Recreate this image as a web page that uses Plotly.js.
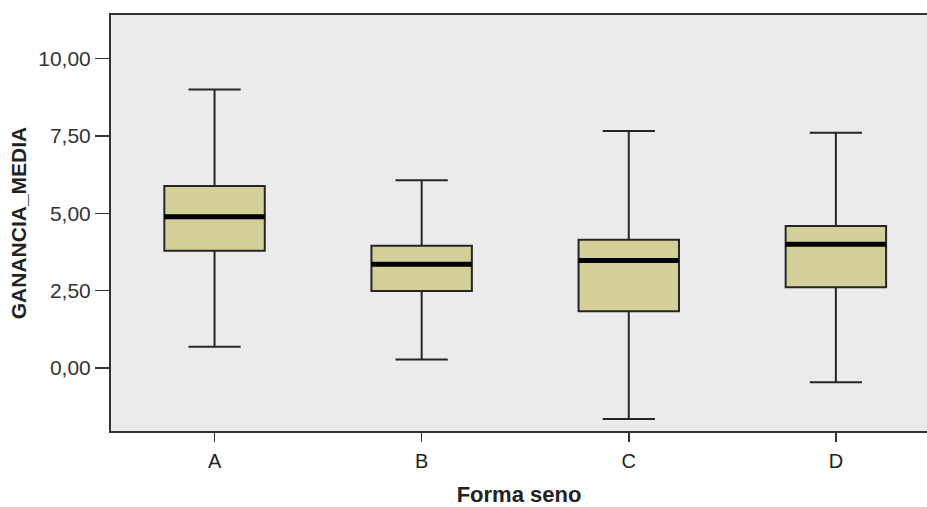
<!DOCTYPE html>
<html>
<head>
<meta charset="utf-8">
<script src="https://cdn.plot.ly/plotly-3.0.1.min.js"></script>
<style>
html,body{margin:0;padding:0;background:#fff;}
#chart{width:927px;height:507px;}
</style>
</head>
<body>
<div id="chart"></div>
<script>
const categories = ["A", "B", "C", "D"];
const upperWhisker = [9.00, 6.07, 7.66, 7.60];
const q3Values = [5.88, 3.95, 4.14, 4.59];
const medianValues = [4.89, 3.35, 3.47, 4.00];
const q1Values = [3.79, 2.49, 1.83, 2.61];
const lowerWhisker = [0.68, 0.27, -1.65, -0.46];
const yTickValues = [0, 2.5, 5, 7.5, 10];
const xAxisTitle = "Forma seno";
const yAxisTitle = "GANANCIA_MEDIA";

const boxTrace = {
  type: "box",
  x: categories,
  q1: q1Values,
  median: medianValues,
  q3: q3Values,
  lowerfence: lowerWhisker,
  upperfence: upperWhisker,
  width: 0.485,
  whiskerwidth: 0.52,
  fillcolor: "#D4CF99",
  line: {color: "#262626", width: 2},
  boxpoints: false,
  hoverinfo: "skip",
  showlegend: false
};

// thick median bar drawn as a flat box on the same scale
const medianTrace = {
  type: "box",
  x: categories,
  q1: medianValues,
  median: medianValues,
  q3: medianValues,
  lowerfence: medianValues,
  upperfence: medianValues,
  width: 0.485,
  whiskerwidth: 0,
  fillcolor: "#000000",
  line: {color: "#000000", width: 5},
  boxpoints: false,
  hoverinfo: "skip",
  showlegend: false
};

const font = "Liberation Sans, Arial, sans-serif";

const layout = {
  width: 927,
  height: 507,
  margin: {l: 111, r: 0, t: 15, b: 76, pad: 0},
  paper_bgcolor: "#ffffff",
  plot_bgcolor: "#EBEBEB",
  boxmode: "overlay",
  separators: ",.",
  showlegend: false,
  xaxis: {
    type: "category",
    range: [-0.5, 3.44],
    showgrid: false,
    zeroline: false,
    showline: true,
    mirror: true,
    linecolor: "#333333",
    linewidth: 2,
    ticks: "outside",
    ticklen: 9,
    tickwidth: 1.5,
    tickcolor: "#333333",
    ticklabelstandoff: 2,
    tickfont: {family: font, size: 20, color: "#222222"},
    title: {text: xAxisTitle, font: {family: font, size: 22, color: "#222222", weight: "bold"}, standoff: 17}
  },
  yaxis: {
    range: [-2.04, 11.41],
    tickvals: yTickValues,
    tickformat: ".2f",
    showgrid: false,
    zeroline: false,
    showline: true,
    mirror: false,
    linecolor: "#333333",
    linewidth: 2,
    ticks: "outside",
    ticklen: 14,
    tickwidth: 1.5,
    tickcolor: "#333333",
    tickfont: {family: font, size: 21, color: "#333333"},
    title: {text: yAxisTitle, font: {family: font, size: 21, color: "#222222", weight: "bold"}, standoff: 6}
  }
};

Plotly.newPlot("chart", [boxTrace, medianTrace], layout, {displayModeBar: false, staticPlot: true});
</script>
</body>
</html>
